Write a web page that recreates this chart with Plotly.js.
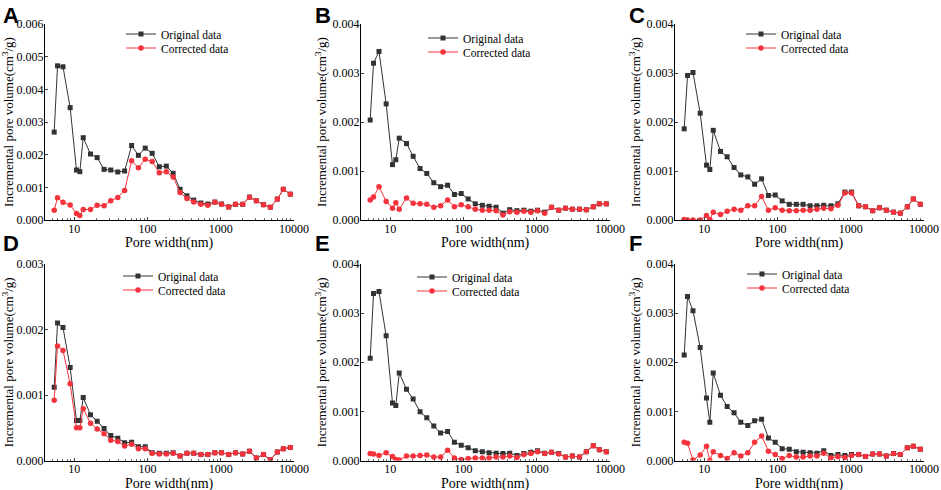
<!DOCTYPE html>
<html><head><meta charset="utf-8">
<script src="https://cdn.plot.ly/plotly-3.0.1.min.js"></script>
<style>body{margin:0;background:#fff}#chart{width:941px;height:490px}</style>
</head><body><div id="chart"></div>
<script>
const poreWidth = [5.34,5.93,7.04,8.82,10.76,11.95,13.3,16.7,20.6,25.6,31.6,39.4,48.8,60.8,75.3,93.3,116,145,181,224,279,346,428,537,668,832,1026,1285,1592,1995,2472,3063,3837,4753,5925,7156,8913];
const panelLabels = ['A','B','C','D','E','F'];
const seriesNames = ['Original data','Corrected data'];
const xTitle = 'Pore width(nm)';
const yTitle = 'Incremental pore volume(cm<sup>3</sup>/g)';
const xTickVals = [10,100,1000,10000];
const xTickText = ['10','100','1000','10000'];
const yMax = [0.006,0.004,0.004,0.003,0.004,0.004];

const originalA = [0.00269,0.00472,0.00469,0.00344,0.00153,0.00148,0.00252,0.00202,0.00191,0.00155,0.00153,0.00147,0.00150,0.00228,0.00198,0.00220,0.00204,0.00163,0.00165,0.00143,0.00094,0.00074,0.00061,0.00052,0.00049,0.00055,0.00049,0.00040,0.00048,0.00048,0.00070,0.00059,0.00047,0.00039,0.00064,0.00094,0.00079];
const correctedA = [0.00030,0.00068,0.00054,0.00046,0.00020,0.00014,0.00032,0.00032,0.00045,0.00044,0.00059,0.00069,0.00090,0.00181,0.00160,0.00186,0.00179,0.00145,0.00148,0.00132,0.00084,0.00066,0.00055,0.00048,0.00045,0.00054,0.00048,0.00040,0.00048,0.00048,0.00070,0.00059,0.00047,0.00039,0.00064,0.00094,0.00079];
const originalB = [0.00204,0.00320,0.00344,0.00237,0.00113,0.00123,0.00167,0.00156,0.00130,0.00105,0.00095,0.00076,0.00068,0.00071,0.00052,0.00054,0.00043,0.00033,0.00030,0.00028,0.00026,0.00014,0.00021,0.00019,0.00020,0.00018,0.00020,0.00016,0.00026,0.00020,0.00024,0.00022,0.00022,0.00021,0.00027,0.00033,0.00033];
const correctedB = [0.00041,0.00047,0.00068,0.00038,0.00024,0.00035,0.00022,0.00045,0.00034,0.00033,0.00032,0.00026,0.00029,0.00041,0.00027,0.00031,0.00027,0.00022,0.00020,0.00020,0.00019,0.00010,0.00017,0.00016,0.00018,0.00016,0.00019,0.00014,0.00026,0.00020,0.00024,0.00022,0.00022,0.00021,0.00027,0.00033,0.00033];
const originalC = [0.00186,0.00295,0.00301,0.00218,0.00112,0.00103,0.00183,0.00140,0.00129,0.00107,0.00092,0.00088,0.00073,0.00084,0.00050,0.00051,0.00039,0.00032,0.00032,0.00032,0.00029,0.00029,0.00030,0.00029,0.00033,0.00057,0.00057,0.00029,0.00027,0.00019,0.00025,0.00020,0.00016,0.00014,0.00027,0.00043,0.00032];
const correctedC = [0.00001,0.00000,0.00000,0.00000,0.00009,0.00001,0.00016,0.00011,0.00018,0.00022,0.00020,0.00029,0.00029,0.00048,0.00020,0.00025,0.00020,0.00019,0.00019,0.00020,0.00020,0.00022,0.00024,0.00023,0.00030,0.00055,0.00055,0.00029,0.00027,0.00019,0.00025,0.00020,0.00016,0.00014,0.00027,0.00043,0.00032];
const originalD = [0.00112,0.00210,0.00203,0.00142,0.00061,0.00061,0.00096,0.00070,0.00060,0.00049,0.00038,0.00034,0.00027,0.00028,0.00021,0.00021,0.00012,0.00011,0.00011,0.00012,0.00007,0.00011,0.00011,0.00009,0.00009,0.00012,0.00012,0.00009,0.00012,0.00010,0.00014,0.00004,0.00009,0.00001,0.00013,0.00018,0.00020];
const correctedD = [0.00092,0.00175,0.00168,0.00117,0.00050,0.00050,0.00079,0.00057,0.00048,0.00041,0.00031,0.00029,0.00022,0.00025,0.00018,0.00018,0.00011,0.00010,0.00010,0.00011,0.00007,0.00011,0.00011,0.00009,0.00009,0.00012,0.00012,0.00009,0.00012,0.00010,0.00014,0.00004,0.00009,0.00001,0.00013,0.00018,0.00020];
const originalE = [0.00208,0.00340,0.00344,0.00254,0.00117,0.00112,0.00178,0.00145,0.00125,0.00099,0.00087,0.00070,0.00056,0.00059,0.00037,0.00031,0.00026,0.00020,0.00018,0.00016,0.00015,0.00014,0.00015,0.00010,0.00014,0.00017,0.00020,0.00015,0.00017,0.00014,0.00007,0.00009,0.00007,0.00018,0.00030,0.00022,0.00018];
const correctedE = [0.00014,0.00013,0.00010,0.00016,0.00008,0.00002,0.00001,0.00009,0.00009,0.00010,0.00011,0.00007,0.00007,0.00021,0.00005,0.00002,0.00004,0.00005,0.00005,0.00005,0.00007,0.00007,0.00009,0.00006,0.00012,0.00014,0.00018,0.00014,0.00017,0.00013,0.00007,0.00009,0.00007,0.00018,0.00030,0.00022,0.00018];
const originalF = [0.00215,0.00334,0.00305,0.00230,0.00127,0.00078,0.00178,0.00133,0.00110,0.00097,0.00078,0.00071,0.00081,0.00084,0.00046,0.00037,0.00024,0.00023,0.00018,0.00017,0.00016,0.00015,0.00020,0.00010,0.00012,0.00010,0.00012,0.00012,0.00008,0.00013,0.00013,0.00009,0.00014,0.00012,0.00026,0.00029,0.00023];
const correctedF = [0.00037,0.00035,0.00001,0.00011,0.00029,0.00000,0.00018,0.00010,0.00004,0.00016,0.00009,0.00016,0.00037,0.00050,0.00019,0.00012,0.00004,0.00010,0.00007,0.00007,0.00009,0.00009,0.00015,0.00005,0.00008,0.00006,0.00010,0.00012,0.00008,0.00013,0.00013,0.00009,0.00014,0.00012,0.00026,0.00029,0.00023];

const originals = [originalA,originalB,originalC,originalD,originalE,originalF];
const correcteds = [correctedA,correctedB,correctedC,correctedD,correctedE,correctedF];

const W = 941, H = 490;
const colX = [[45,294],[361,610],[675,924]];
const rowY = [[24,220],[264,460.5]];
const xTitleY = [242.5, 483.5];
const legendPos = [[121,19.5],[423,23.5],[741,19.5],[118,261.5],[412,262.5],[742,259.5]];
const serif = 'Liberation Serif';
const black = '#333333', red = '#f5333c';

const traces = [];
const layout = {
  width: W, height: H,
  margin: {l:0,r:0,t:0,b:0},
  paper_bgcolor:'#fff', plot_bgcolor:'#fff',
  showlegend: true,
  annotations: [],
  font: {family: serif, color:'#000'}
};

for (let i = 0; i < 6; i++) {
  const col = i % 3, row = Math.floor(i / 3);
  const ax = i === 0 ? '' : String(i + 1);
  const leg1 = 'legend' + (i === 0 ? '' : (2*i + 1));
  const leg2 = 'legend' + (2*i + 2);
  traces.push({
    x: poreWidth, y: originals[i], type:'scatter', mode:'lines+markers',
    name: seriesNames[0], xaxis:'x'+ax, yaxis:'y'+ax, legend: leg1,
    line:{color:black, width:1}, marker:{symbol:'square', size:5, color:black}
  });
  traces.push({
    x: poreWidth, y: correcteds[i], type:'scatter', mode:'lines+markers',
    name: seriesNames[1], xaxis:'x'+ax, yaxis:'y'+ax, legend: leg2,
    line:{color:red, width:1}, marker:{symbol:'circle', size:5.5, color:red}
  });
  const xd = [colX[col][0]/W, colX[col][1]/W];
  const yd = [(H-rowY[row][1])/H, (H-rowY[row][0])/H];
  layout['xaxis'+ax] = {
    domain: xd, type:'log', range:[Math.log10(4), 4], anchor:'y'+ax,
    tickvals: xTickVals, ticktext: xTickText, ticks:'inside', ticklen:3, tickwidth:1,
    ticklabelstandoff:-3,
    minor:{ticks:'inside', ticklen:2, tickwidth:0.8, dtick:'D1', showgrid:false},
    showline:true, linecolor:'#000', linewidth:1.2, showgrid:false, zeroline:false,
    tickfont:{family:serif, size:12, color:'#000'}
  };
  layout['yaxis'+ax] = {
    domain: yd, range:[0, yMax[i]], anchor:'x'+ax, dtick:0.001, tickformat:'.3f',
    ticks:'inside', ticklen:3, tickwidth:1, ticklabelstandoff:-2,
    showline:true, linecolor:'#000', linewidth:1.2, showgrid:false, zeroline:false,
    tickfont:{family:serif, size:12, color:'#000'},
    title:{text:yTitle, font:{family:serif, size:13, color:'#000'}, standoff:2}
  };
  const lx = legendPos[i][0]/W;
  const common = {xanchor:'left', yanchor:'top', bgcolor:'rgba(0,0,0,0)', borderwidth:0,
    font:{family:serif, size:11.5, color:'#000'}};
  layout[leg1] = Object.assign({x: lx, y: (H-legendPos[i][1])/H}, common);
  layout[leg2] = Object.assign({x: lx, y: (H-legendPos[i][1]-14)/H}, common);
  layout.annotations.push({
    text: xTitle, xref:'paper', yref:'paper', showarrow:false,
    x: (colX[col][0] + colX[col][1]) / 2 / W, y: (H - xTitleY[row]) / H,
    xanchor:'center', yanchor:'middle',
    font:{family:serif, size:14, color:'#000'}
  });
  layout.annotations.push({
    text: panelLabels[i], xref:'paper', yref:'paper', showarrow:false,
    x: (col === 0 ? 1 : colX[col][0] - 48)/W, y: (H - (row === 0 ? 1 : 229))/H,
    xanchor:'left', yanchor:'top',
    font:{family:'Liberation Sans', size:22, color:'#000', weight:'bold'}
  });
}

Plotly.newPlot('chart', traces, layout, {displayModeBar:false, staticPlot:true});
</script></body></html>
